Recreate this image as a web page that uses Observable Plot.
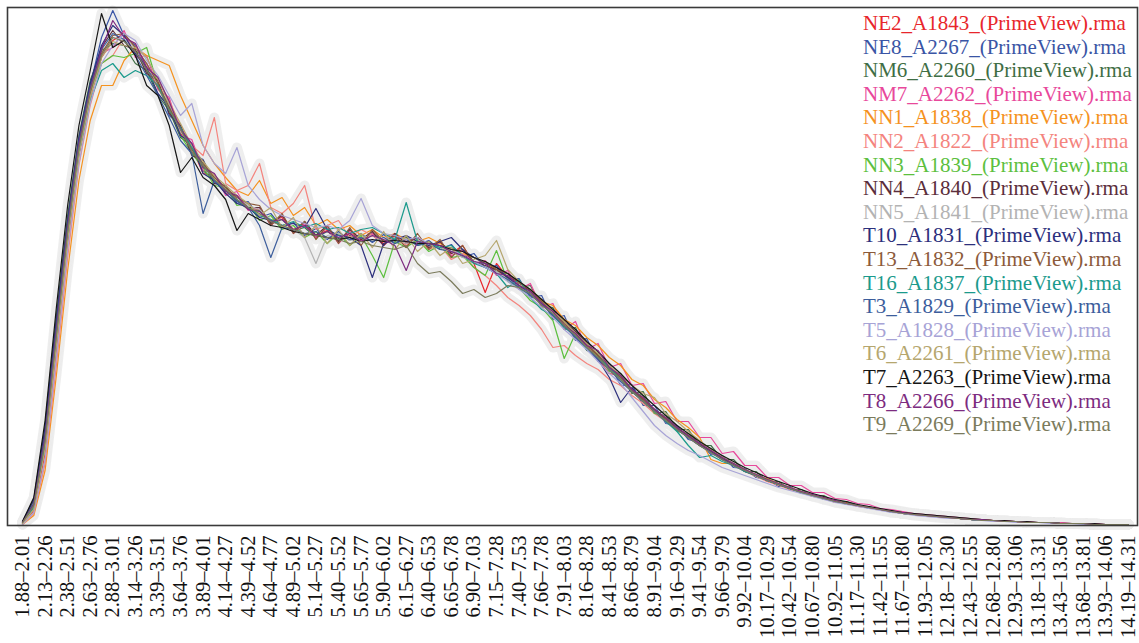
<!DOCTYPE html>
<html>
<head>
<meta charset="utf-8">
<script src="https://cdn.jsdelivr.net/npm/d3@7"></script>
<script src="https://cdn.jsdelivr.net/npm/@observablehq/plot@0.6"></script>
<style>
  html, body { margin: 0; padding: 0; background: #fff; }
  #wrap { position: relative; width: 1139px; height: 643px; overflow: hidden; }
  #legend { position: absolute; left: 863px; top: 12px; font-family: "Liberation Serif", "DejaVu Serif", serif; font-size: 21px; line-height: 23.6px; white-space: nowrap; }
</style>
</head>
<body>
<div id="wrap"><div id="legend"></div></div>
<script>
// Bin labels (every other bin of width ~0.125 on the log2 expression scale)
const binLabels = ["1.88–2.01","2.13–2.26","2.38–2.51","2.63–2.76","2.88–3.01","3.14–3.26","3.39–3.51","3.64–3.76","3.89–4.01","4.14–4.27","4.39–4.52","4.64–4.77","4.89–5.02","5.14–5.27","5.40–5.52","5.65–5.77","5.90–6.02","6.15–6.27","6.40–6.53","6.65–6.78","6.90–7.03","7.15–7.28","7.40–7.53","7.66–7.78","7.91–8.03","8.16–8.28","8.41–8.53","8.66–8.79","8.91–9.04","9.16–9.29","9.41–9.54","9.66–9.79","9.92–10.04","10.17–10.29","10.42–10.54","10.67–10.80","10.92–11.05","11.17–11.30","11.42–11.55","11.67–11.80","11.93–12.05","12.18–12.30","12.43–12.55","12.68–12.80","12.93–13.06","13.18–13.31","13.43–13.56","13.68–13.81","13.93–14.06","14.19–14.31"];

const sampleNames = ["NE2_A1843_(PrimeView).rma","NE8_A2267_(PrimeView).rma","NM6_A2260_(PrimeView).rma","NM7_A2262_(PrimeView).rma","NN1_A1838_(PrimeView).rma","NN2_A1822_(PrimeView).rma","NN3_A1839_(PrimeView).rma","NN4_A1840_(PrimeView).rma","NN5_A1841_(PrimeView).rma","T10_A1831_(PrimeView).rma","T13_A1832_(PrimeView).rma","T16_A1837_(PrimeView).rma","T3_A1829_(PrimeView).rma","T5_A1828_(PrimeView).rma","T6_A2261_(PrimeView).rma","T7_A2263_(PrimeView).rma","T8_A2266_(PrimeView).rma","T9_A2269_(PrimeView).rma"];

const sampleColors = ["#e8262b","#3a55a5","#3f6e45","#e8489b","#f5921e","#f4847e","#5cbf3e","#5b2e3b","#b3b3b3","#2c2f7c","#8c5a3a","#1b9a8c","#3c5d9c","#a7a3d6","#b5a66e","#151515","#7d2b80","#7b7b5c"];

// Density per bin (arbitrary units), one array per sample, bins 0..98
const NE2 = [2,15,72,175,282,370,428,468,485, 492,470,462,438,420,392,378,352,350,332,330,318, 316,305,308,296,300,290,295,284,292,286,290,282,289,284,288,280,283,272,280,262, 233,262,248,245,230,226,208,205,188,183,166,152,150,133,128,112,108,95,90,80,75,66,62,54,51, 44,42,36,34,29,28,23,23,19,18,16,14,12,11,10,9,8,7,6,5,5,4,4,3,3,3,2,2,2,1,1,1,1];
const NE8 = [3,20,85,192,298,385,440,488,515, 490,480,455,445,410,400,372,366,342,340,322,324, 308,312,298,303,290,297,286,294,285,292,283,291,282,289,281,285,276,281,268,272, 258,260,246,247,228,230,206,210,185,187,164,162,140,141,120,120,102,100,86,83,71,70,58,57,48, 46,39,39,32,32,26,26,21,21,17,17,13,13,11,10,9,8,7,6,6,5,4,4,3,3,3,2,2,2,1,1,1,1];
const NM6 = [4,25,100,210,310,390,445,475,482, 480,462,455,430,415,388,380,355,345,335,325,316, 315,302,306,295,298,288,294,287,290,284,292,285,286,288,280,284,276,278,270,268, 262,254,252,238,240,220,218,196,198,175,172,155,152,132,134,112,114,96,96,80,80,66,66,54,54, 44,44,36,36,30,30,24,24,20,19,16,15,13,12,11,10,9,8,7,6,5,5,4,4,3,3,3,2,2,2,1,1,1];
const NM7 = [2,17,78,182,288,372,430,472,478, 495,468,470,436,428,390,386,355,352,330,334,315, 318,300,310,292,302,288,298,282,294,284,292,280,290,283,286,278,284,270,275,262, 265,250,255,236,242,218,222,196,204,176,182,158,162,140,142,122,124,104,104,88,88,72,74,60,60, 48,48,40,40,33,33,27,26,22,21,17,16,14,12,11,10,9,8,7,6,5,5,4,4,3,3,3,2,2,2,1,1,1];
const NN1 = [1,10,55,150,255,345,405,440,440, 465,478,470,465,460,430,405,380,362,348,335,330, 345,322,328,310,318,300,306,296,300,290,296,288,292,286,284,288,282,276,272,268, 262,256,248,240,236,224,220,206,200,188,180,168,160,146,140,126,118,106,98,88,66,62,62,56,50, 47,42,38,34,31,28,25,22,20,18,16,14,12,11,10,9,8,7,6,6,5,4,4,3,3,3,2,2,2,1,1,1,1];
const NN2 = [1,12,62,160,268,360,420,462,470, 488,482,458,445,425,400,380,370,408,342,335,340, 362,318,312,322,340,296,300,305,288,296,290,284,292,280,288,276,280,266,272,258, 250,240,228,220,210,196,178,180,170,162,156,146,140,130,122,112,104,96,88,80,73,66,60,54,49, 44,40,36,33,30,27,24,22,20,18,16,14,12,11,10,9,8,7,6,5,5,4,4,3,3,3,2,2,2,1,1,1,1];
const NN3 = [3,20,88,195,298,380,432,462,470, 468,472,478,440,420,390,372,358,340,338,320,322, 305,310,296,300,288,294,282,292,280,290,270,248,284,278,286,274,280,268,270,258, 250,275,244,238,225,218,205,167,192,176,170,154,150,134,130,112,110,94,92,80,76,66,62,54,50, 45,41,37,33,30,27,24,22,20,18,16,14,13,11,10,9,8,7,6,5,5,4,4,3,3,3,2,2,2,1,1,1,1];
const NN4 = [3,22,92,200,302,382,440,478,495, 480,476,452,445,412,400,370,365,342,340,325,318, 318,302,310,294,304,290,300,284,296,286,294,280,292,282,288,278,284,272,276,264, 260,256,248,244,234,226,214,204,194,182,170,158,148,136,126,116,106,97,89,81,74,67,61,55,50, 45,41,37,33,30,27,24,22,20,18,16,14,12,11,10,9,8,7,6,5,5,4,4,3,3,3,2,2,2,1,1,1,1];
const NN5 = [2,18,82,188,292,376,432,470,488, 486,478,462,440,420,394,378,360,350,336,330,320, 316,306,300,296,288,262,290,292,285,288,290,284,288,282,286,280,278,274,268,264, 258,254,246,240,232,222,212,200,190,178,168,156,146,134,124,114,105,96,88,80,73,66,60,55,50, 45,41,37,33,30,27,24,22,20,18,16,14,12,11,10,9,8,7,6,5,5,4,4,3,3,3,2,2,2,1,1,1,1];
const T10 = [4,26,98,205,305,388,442,480,500, 490,472,458,432,418,390,382,352,345,332,322,318, 308,305,300,302,298,317,296,290,288,280,248,282,286,290,284,280,284,288,276,268, 262,258,248,240,232,222,210,200,188,176,166,148,123,138,124,116,104,96,88,80,74,66,62,54,50, 45,41,37,34,30,27,24,22,20,18,16,14,12,11,10,9,8,7,6,5,5,4,4,3,3,3,2,2,2,1,1,1,1];
const T13 = [3,20,86,192,296,378,432,472,490, 492,478,462,442,418,398,376,362,348,338,328,322, 320,300,312,292,304,286,300,282,298,280,296,284,290,278,292,276,286,268,280,262, 264,256,252,242,236,224,214,202,192,180,170,158,148,136,126,116,107,98,90,82,75,68,62,56,51, 46,42,38,34,30,27,25,22,20,18,16,14,13,11,10,9,8,7,6,5,5,4,4,3,3,3,2,2,2,1,1,1,1];
const T16 = [2,18,80,185,288,372,425,455,462, 448,455,450,440,415,398,378,360,345,335,326,318, 310,306,300,304,298,302,296,298,292,296,298,292,286,323,284,282,278,280,270,262, 258,252,238,246,228,216,210,198,190,176,168,158,146,134,124,114,104,94,80,68,70,64,60,54,50, 45,41,37,33,30,27,24,22,20,18,16,14,12,11,10,9,8,7,6,5,5,4,4,3,3,3,2,2,2,1,1,1,1];
const T3 = [3,22,90,198,300,384,438,476,492, 486,470,450,430,408,385,372,312,345,335,324,318, 300,268,298,296,292,294,288,290,286,288,284,288,282,286,280,282,276,274,270,264, 258,252,246,238,230,222,210,200,188,178,166,156,144,134,124,114,105,96,88,80,73,66,60,55,50, 45,41,37,33,30,27,24,22,20,18,16,14,12,11,10,9,8,7,6,5,5,4,4,3,3,3,2,2,2,1,1,1,1];
const T5 = [1,13,66,168,275,362,422,462,480, 492,485,465,450,430,410,422,380,362,352,378,340, 326,316,310,306,302,298,300,296,305,327,300,292,290,286,288,282,280,276,270,264, 258,252,244,236,228,218,208,196,186,176,164,152,142,128,114,100,90,82,75,70,64,58,54,50,46, 42,38,35,32,29,26,23,21,19,17,15,13,12,10,9,8,7,7,6,5,4,4,3,3,3,2,2,2,1,1,1,1,1];
const T6 = [2,16,76,180,285,370,428,468,484, 480,478,468,446,422,402,380,364,350,340,330,322, 310,318,298,308,288,300,282,296,280,292,278,294,276,290,274,284,270,278,262,266, 270,285,256,244,236,226,214,204,192,182,172,160,150,140,132,128,112,104,94,85,76,69,62,56,51, 46,42,38,34,31,28,25,22,20,18,16,14,13,11,10,9,8,7,6,6,5,4,4,3,3,3,2,2,2,1,1,1,1];
const T7 = [4,28,105,218,320,400,455,512,478, 485,470,440,430,400,353,368,348,340,326,295,312, 306,300,298,294,292,290,288,286,288,284,286,284,285,284,282,282,280,276,274,268, 264,258,252,244,236,226,216,206,196,184,174,162,152,140,130,120,110,100,92,84,77,70,64,58,53, 48,44,40,36,32,29,26,24,21,19,17,15,13,12,11,10,9,8,7,6,5,5,4,4,3,3,2,2,2,2,1,1,1];
const T8 = [3,21,88,195,298,382,436,476,505, 488,482,458,448,424,396,382,358,352,334,330,316, 314,304,306,296,300,290,294,288,292,284,290,286,280,255,284,282,280,274,270,264, 262,252,250,240,234,222,214,200,192,180,175,158,150,136,128,116,108,98,90,82,75,68,62,56,51, 46,42,38,34,31,28,25,22,20,18,16,14,13,11,10,9,8,7,6,6,5,4,4,3,3,3,2,2,2,1,1,1,1];
const T9 = [3,20,84,190,294,378,434,470,488, 484,474,456,438,416,396,374,360,346,336,326,318, 312,304,300,296,292,290,288,286,282,284,280,278,276,280,262,252,254,244,232,236, 228,232,240,238,232,220,212,200,190,178,168,156,146,134,124,114,105,96,88,80,73,66,60,55,50, 45,41,37,33,30,27,24,22,20,18,16,14,12,11,10,9,8,7,6,5,5,4,4,3,3,3,2,2,2,1,1,1,1];

const seriesValues = [NE2,NE8,NM6,NM7,NN1,NN2,NN3,NN4,NN5,T10,T13,T16,T3,T5,T6,T7,T8,T9];

// Tidy table for Plot
const rows = [];
seriesValues.forEach((vals, s) => {
  vals.forEach((v, i) => rows.push({sample: sampleNames[s], bin: i, density: v}));
});
const tickBins = binLabels.map((_, j) => j * 2);

const chart = Plot.plot({
  width: 1139,
  height: 643,
  marginLeft: 7,
  marginRight: 2,
  marginTop: 7,
  marginBottom: 118,
  style: {fontFamily: "'Liberation Serif', 'DejaVu Serif', serif", background: "white"},
  x: {domain: [-1.33, 98.8], axis: null, label: null},
  y: {domain: [0, 518], axis: null},
  color: {domain: sampleNames, range: sampleColors},
  marks: [
    Plot.line(rows, {x: "bin", y: "density", z: "sample", stroke: "#ececec", strokeWidth: 10, strokeOpacity: 0.9}),
    Plot.line(rows, {x: "bin", y: "density", z: "sample", stroke: "sample", strokeWidth: 1.2}),
    Plot.axisX({ticks: tickBins, tickFormat: d => binLabels[d / 2], tickRotate: -90, tickSize: 0, tickPadding: 10, fontSize: 20.5, fill: "#111", label: null}),
    Plot.frame({stroke: "#3a3a3a", strokeWidth: 1.6})
  ]
});
document.getElementById("wrap").prepend(chart);

// Legend (inside plot, top-right)
const legend = document.getElementById("legend");
sampleNames.forEach((name, i) => {
  const d = document.createElement("div");
  d.textContent = name;
  d.style.color = sampleColors[i];
  legend.appendChild(d);
});
</script>
</body>
</html>
